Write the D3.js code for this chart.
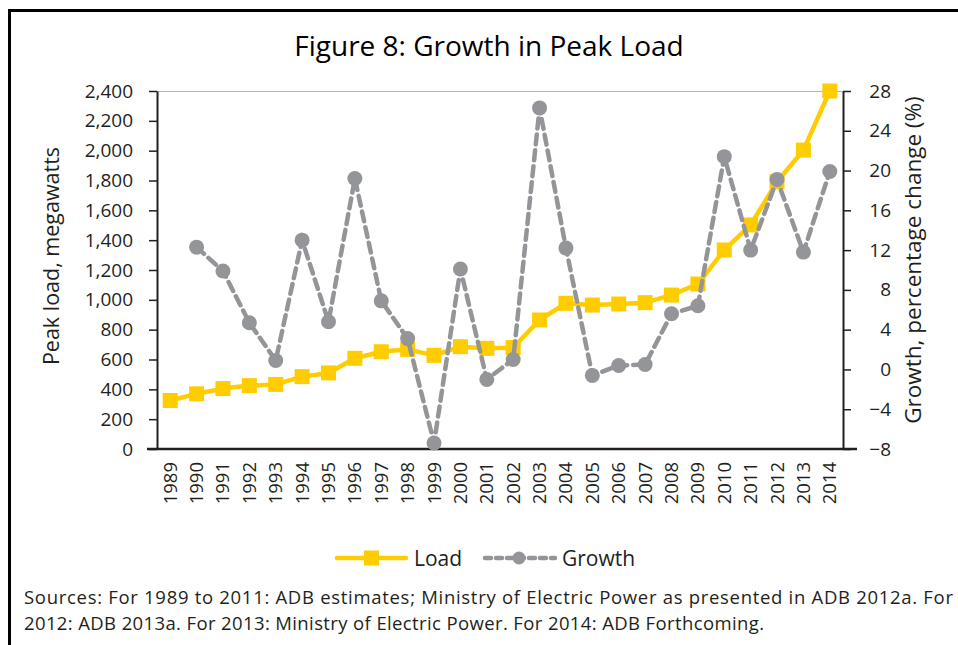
<!DOCTYPE html>
<html>
<head>
<meta charset="utf-8">
<script src="https://cdn.jsdelivr.net/npm/d3@7"></script>
<style>
  html, body { margin: 0; padding: 0; background: #fff; overflow: hidden; }
  svg { display: block; }
  text { font-family: "Open Sans", "Noto Sans", sans-serif; fill: #231f20; }
</style>
</head>
<body>
<div id="chart"></div>
<script>

var years = ["1989","1990","1991","1992","1993","1994","1995","1996","1997","1998","1999","2000","2001",
  "2002","2003","2004","2005","2006","2007","2008","2009","2010","2011","2012","2013","2014"];

// peak load, megawatts
var load = [325, 370, 405, 425, 433, 485, 510, 608, 652, 668, 628, 686, 675,
  680, 865, 977, 965, 972, 981, 1032, 1106, 1334, 1502, 1792, 2004, 2400];

// growth, percent (no value for 1989)
var growth = [null, 12.3, 9.9, 4.7, 0.9, 13.0, 4.8, 19.2, 6.9, 3.1, -7.4, 10.1, -1.0,
  1.0, 26.3, 12.2, -0.6, 0.4, 0.5, 5.6, 6.4, 21.4, 12.0, 19.1, 11.8, 19.9];

var leftTicks = [0, 200, 400, 600, 800, 1000, 1200, 1400, 1600, 1800, 2000, 2200, 2400];
var rightTicks = [-8, -4, 0, 4, 8, 12, 16, 20, 24, 28];

var sourceLines = [
  "Sources: For 1989 to 2011: ADB estimates; Ministry of Electric Power as presented in ADB 2012a. For",
  "2012: ADB 2013a. For 2013: Ministry of Electric Power. For 2014: ADB Forthcoming."
];
var sourceWidths = [929, 740];

var width = 958, height = 645;
var margin = {top: 91, right: 115, bottom: 196, left: 157};
var innerWidth = width - margin.left - margin.right,
    innerHeight = height - margin.top - margin.bottom;

var yellow = "#ffcc00", grey = "#939598", ink = "#231f20";

var svg = d3.select("#chart").append("svg")
    .attr("width", width)
    .attr("height", height);

// outer frame (right and bottom sides fall outside the picture)
svg.append("path")
    .attr("d", "M9.5," + height + "V10.5H" + width)
    .attr("fill", "none")
    .attr("stroke", "#000")
    .attr("stroke-width", 3);

svg.append("text")
    .attr("x", 489).attr("y", 56)
    .attr("text-anchor", "middle")
    .attr("font-size", "28px")
    .attr("font-weight", 500)
    .style("fill", "#000")
    .text("Figure 8: Growth in Peak Load");

var g = svg.append("g")
    .attr("transform", "translate(" + margin.left + "," + margin.top + ")");

var xScale = d3.scaleBand().domain(years).range([0, innerWidth]).padding(0);
var yLeft = d3.scaleLinear().domain([0, 2400]).range([innerHeight, 0]);
var yRight = d3.scaleLinear().domain([-8, 28]).range([innerHeight, 0]);

function X(d, i) { return xScale(years[i]) + xScale.bandwidth() / 2; }

// top grid line
g.append("line")
    .attr("x1", 0).attr("x2", innerWidth)
    .attr("y1", yLeft(2400) + 0.5).attr("y2", yLeft(2400) + 0.5)
    .attr("stroke", "#b3b3b3")
    .attr("stroke-width", 1);

// left axis
var yAxisL = g.append("g")
    .attr("class", "y axis")
    .call(d3.axisLeft(yLeft).tickValues(leftTicks).tickFormat(d3.format(",")).tickSize(8).tickSizeOuter(0));

// right axis
var yAxisR = g.append("g")
    .attr("class", "y2 axis")
    .attr("transform", "translate(" + innerWidth + ",0)")
    .call(d3.axisRight(yRight).tickValues(rightTicks).tickSize(8).tickSizeOuter(0));

[yAxisL, yAxisR].forEach(function(a) {
  a.select(".domain").attr("stroke", ink).attr("stroke-width", 2);
  a.selectAll(".tick line").attr("stroke", ink).attr("stroke-width", 1.5);
  a.selectAll(".tick text").attr("font-size", "19px").style("font-family", "'Open Sans', sans-serif").style("fill", ink);
});
yAxisL.selectAll(".tick text").attr("x", -24);
yAxisR.selectAll(".tick text").attr("x", 48).attr("text-anchor", "end");

// bottom axis
var xAxisG = g.append("g")
    .attr("class", "x axis")
    .attr("transform", "translate(0," + innerHeight + ")")
    .call(d3.axisBottom(xScale).tickSize(0).tickSizeOuter(0));
xAxisG.select(".domain").remove();
xAxisG.append("line")
    .attr("x1", -10).attr("x2", innerWidth + 14)
    .attr("stroke", ink).attr("stroke-width", 2.5);
xAxisG.selectAll(".tick text")
    .attr("transform", "rotate(-90)")
    .attr("x", -13)
    .attr("y", 0)
    .attr("dy", "0.35em")
    .attr("text-anchor", "end")
    .attr("font-size", "18.5px")
    .style("font-family", "'Open Sans', sans-serif")
    .style("fill", ink);

// axis titles
svg.append("text")
    .attr("transform", "translate(59," + 256 + ") rotate(-90)")
    .attr("text-anchor", "middle")
    .attr("font-size", "21.5px")
    .text("Peak load, megawatts");

svg.append("text")
    .attr("transform", "translate(921," + 260 + ") rotate(-90)")
    .attr("text-anchor", "middle")
    .attr("font-size", "22.5px")
    .text("Growth, percentage change (%)");

// load series
var loadLine = d3.line()
    .x(function(d, i) { return X(d, i); })
    .y(function(d) { return yLeft(d); });

g.append("path")
    .datum(load)
    .attr("fill", "none")
    .attr("stroke", yellow)
    .attr("stroke-width", 4.5)
    .attr("stroke-linejoin", "round")
    .attr("d", loadLine);

g.selectAll(".sq")
    .data(load)
  .enter().append("rect")
    .attr("class", "sq")
    .attr("x", function(d, i) { return X(d, i) - 7.5; })
    .attr("y", function(d) { return yLeft(d) - 7.5; })
    .attr("width", 15).attr("height", 15)
    .attr("fill", yellow);

// growth series
var growthLine = d3.line()
    .defined(function(d) { return d !== null; })
    .x(function(d, i) { return X(d, i); })
    .y(function(d) { return yRight(d); });

g.append("path")
    .datum(growth)
    .attr("fill", "none")
    .attr("stroke", grey)
    .attr("stroke-width", 4.5)
    .attr("stroke-dasharray", "10,6")
    .attr("stroke-linecap", "round")
    .attr("d", growthLine);

g.selectAll(".dot")
    .data(growth.map(function(d, i) { return {v: d, i: i}; }).filter(function(d) { return d.v !== null; }))
  .enter().append("circle")
    .attr("class", "dot")
    .attr("cx", function(d) { return X(d.v, d.i); })
    .attr("cy", function(d) { return yRight(d.v); })
    .attr("r", 7.5)
    .attr("fill", grey);

// legend
var legend = svg.append("g").attr("transform", "translate(0,558)");
legend.append("line")
    .attr("x1", 337).attr("x2", 406)
    .attr("stroke", yellow).attr("stroke-width", 4.5).attr("stroke-linecap", "round");
legend.append("rect")
    .attr("x", 364).attr("y", -7.5).attr("width", 15).attr("height", 15)
    .attr("fill", yellow);
legend.append("text")
    .attr("x", 414).attr("y", 7.5)
    .attr("font-size", "21px")
    .text("Load");

legend.append("line")
    .attr("x1", 485).attr("x2", 555)
    .attr("stroke", grey).attr("stroke-width", 4.5)
    .attr("stroke-dasharray", "6,5").attr("stroke-linecap", "round");
legend.append("circle")
    .attr("cx", 519).attr("cy", 0).attr("r", 6.5)
    .attr("fill", grey);
legend.append("text")
    .attr("x", 562).attr("y", 7.5)
    .attr("font-size", "21px")
    .text("Growth");

// sources note
svg.selectAll(".src")
    .data(sourceLines)
  .enter().append("text")
    .attr("class", "src")
    .attr("x", 24)
    .attr("y", function(d, i) { return 604 + i * 26; })
    .attr("font-size", "18.5px")
    .attr("textLength", function(d, i) { return sourceWidths[i]; })
    .attr("lengthAdjust", "spacing")
    .text(function(d) { return d; });

</script>
</body>
</html>
